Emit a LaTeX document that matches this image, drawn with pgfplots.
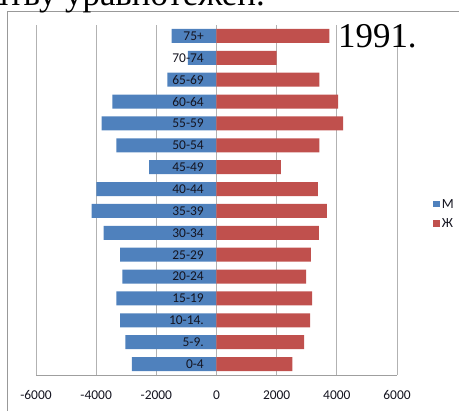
\documentclass[border=0pt]{standalone}
\usepackage{fontspec}
\setmainfont{Carlito}
\newfontfamily\serifont{Liberation Serif}
\usepackage{pgfplots}
\pgfplotsset{compat=1.18}
\definecolor{exblue}{HTML}{4F81BD}
\definecolor{exred}{HTML}{C0504D}
\definecolor{lbl}{HTML}{141420}
\begin{document}
\begin{tikzpicture}
\draw[gray!80, line width=0.9bp] (7.5bp,-5bp) -- (7.5bp,400bp) -- (470bp,400bp);
\begin{axis}[
  at={(36bp,36bp)}, anchor=south west,
  scale only axis, width=361bp, height=350bp,
  xmin=-6000, xmax=6000, ymin=-0.5, ymax=15.5,
  xtick={-6000,-4000,-2000,0,2000,4000,6000},
  xticklabels={-6000,-4000,-2000,0,2000,4000,6000},
  ytick=\empty,
  axis x line=bottom, axis y line=left,
  x axis line style={-, draw=gray!75, line width=0.8bp},
  y axis line style={draw=none},
  major tick length=0pt,
  xmajorgrids, grid style={gray!60, line width=0.8bp},
  tick label style={font=\fontsize{13.5}{15}\selectfont, text=lbl},
  xticklabel style={yshift=-12bp},
  legend style={at={(1.1,0.46)}, anchor=west, draw=none, fill=none,
    nodes={font=\fontsize{14}{16}\selectfont, text=lbl}, row sep=5bp, inner sep=0pt},
  legend cell align=left,
  legend image code/.code={\fill[#1, draw=none] (0bp,-3bp) rectangle (6.5bp,3.5bp);},
]
\addplot[xbar, bar shift=0pt, bar width=0.64, fill=exblue, draw=none] coordinates {
(-2810,0) (-3030,1) (-3200,2) (-3330,3) (-3130,4) (-3200,5) (-3750,6) (-4150,7)
(-3990,8) (-2240,9) (-3330,10) (-3820,11) (-3465,12) (-1630,13) (-950,14) (-1495,15)};
\addlegendentry{М}
\addplot[xbar, bar shift=0pt, bar width=0.64, fill=exred, draw=none] coordinates {
(2525,0) (2910,1) (3110,2) (3180,3) (2980,4) (3135,5) (3400,6) (3670,7)
(3370,8) (2140,9) (3420,10) (4210,11) (4040,12) (3420,13) (2000,14) (3750,15)};
\addlegendentry{Ж}
\addplot[draw=none, mark=none, forget plot, point meta=explicit symbolic,
  nodes near coords,
  every node near coord/.style={anchor=east, inner sep=0pt, xshift=-12.5bp,
    font=\fontsize{13.5}{15}\selectfont, text=lbl}] coordinates {
(0,0) [0-4] (0,1) [5-9.] (0,2) [10-14.] (0,3) [15-19] (0,4) [20-24] (0,5) [25-29]
(0,6) [30-34] (0,7) [35-39] (0,8) [40-44] (0,9) [45-49] (0,10) [50-54] (0,11) [55-59]
(0,12) [60-64] (0,13) [65-69] (0,14) [70-74] (0,15) [75+]};
\end{axis}
\node[anchor=base west, inner sep=0pt, font=\serifont\fontsize{35}{40}\selectfont] at (338bp,363bp) {1991.};
\node[anchor=base east, inner sep=0pt, font=\serifont\fontsize{35}{40}\selectfont] at (265bp,405bp) {у становништву уравнотежен.};
\pgfresetboundingbox
\useasboundingbox (0,0) rectangle (459bp,411bp);
\end{tikzpicture}
\end{document}
